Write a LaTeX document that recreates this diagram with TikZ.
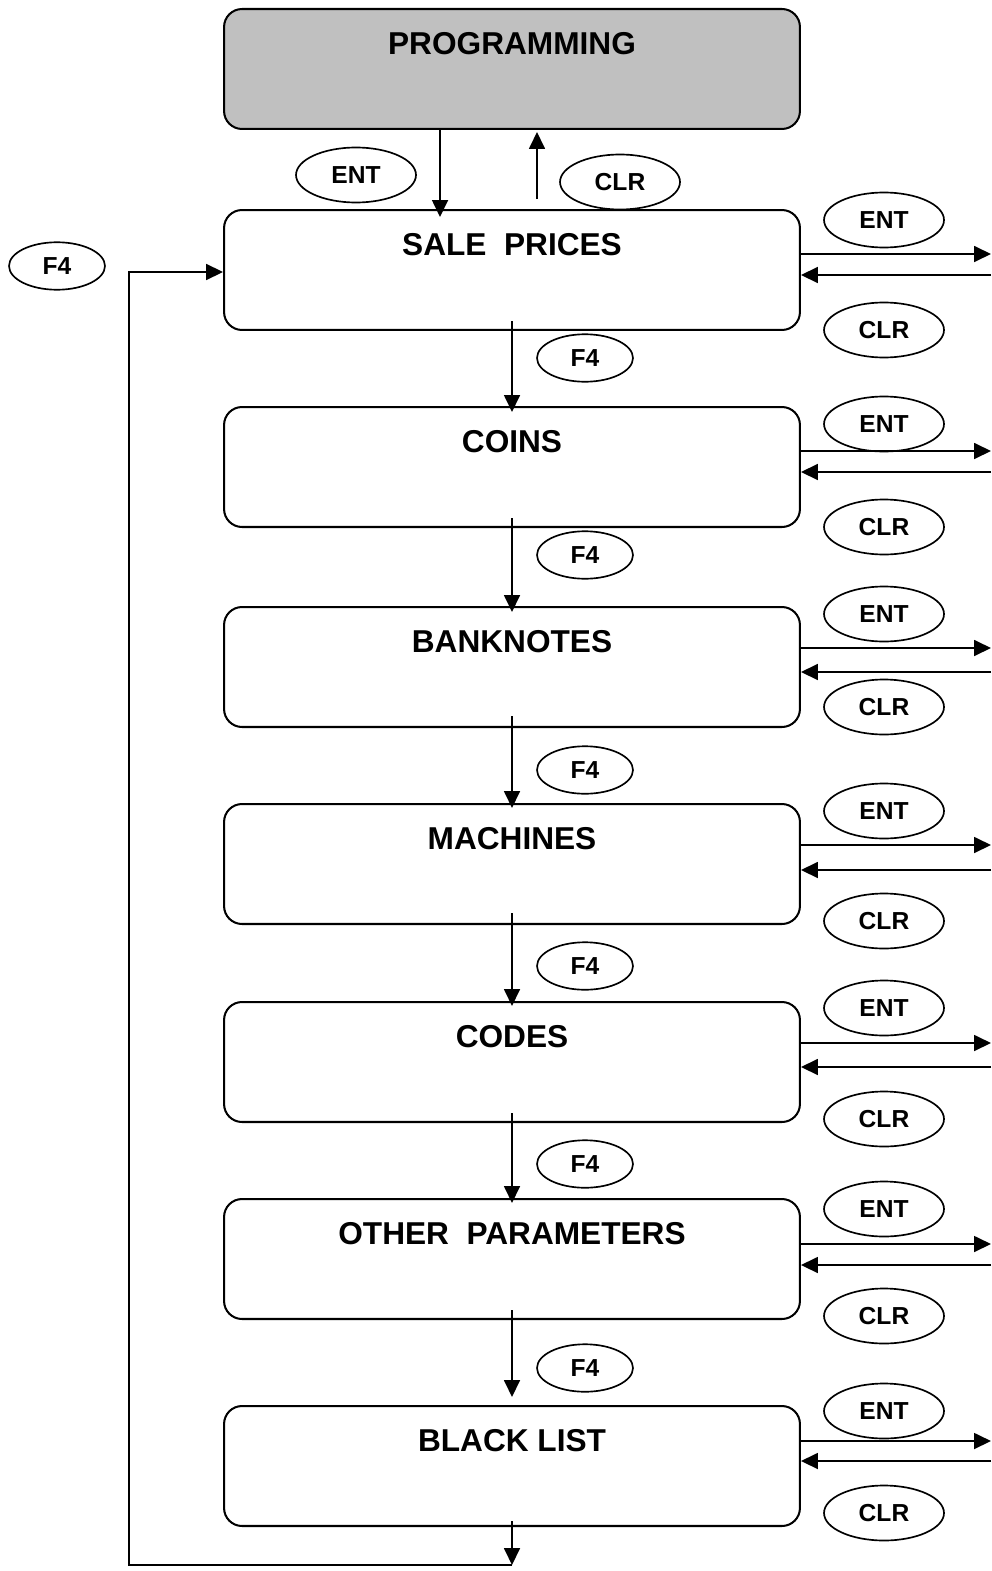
\documentclass[tikz,border=0pt]{standalone}
\usepackage{fontspec}
\setmainfont{Liberation Sans}
\usetikzlibrary{arrows.meta,shapes.geometric}
\definecolor{progfill}{HTML}{C0C0C0}
\tikzset{
  menubox/.style={draw, line width=1.15pt, rounded corners=0.36cm,
    minimum width=11.52cm, minimum height=2.4cm},
  title/.style={anchor=center, yshift=-0.71cm, font=\fontsize{18}{20}\selectfont\bfseries},
  key/.style={draw, ellipse, line width=0.95pt, inner sep=0pt,
    minimum width=2.4cm, minimum height=1.1cm, font=\fontsize{14}{16}\selectfont\bfseries},
  fkey/.style={key, minimum width=1.92cm, minimum height=0.95cm},
  arr/.style={line width=1pt, -{Triangle[length=0.34cm,width=0.32cm]}}
}
\begin{document}
\begin{tikzpicture}[x=0.02cm,y=-0.02cm]
  \useasboundingbox (0,0) rectangle (991,1571);
  % menu boxes
  \node[menubox, fill=progfill, label={[title]north:PROGRAMMING}] (prog) at (512,69) {};
  \node[menubox, label={[title]north:SALE\ \ PRICES}] (sp) at (512,270) {};
  \node[menubox, label={[title]north:COINS}] (coins) at (512,467) {};
  \node[menubox, label={[title]north:BANKNOTES}] (bank) at (512,667) {};
  \node[menubox, label={[title]north:MACHINES}] (mach) at (512,864) {};
  \node[menubox, label={[title]north:CODES}] (codes) at (512,1062) {};
  \node[menubox, label={[title]north:OTHER\ \ PARAMETERS}] (other) at (512,1259) {};
  \node[menubox, label={[title]north:BLACK LIST}] (black) at (512,1466) {};
  % keys
  \node[key] (entP) at (356,175) {ENT};
  \node[key] (clrP) at (620,182) {CLR};
  \node[fkey] (f4L) at (57,266) {F4};
  \node[key] (ent1) at (884,220) {ENT};
  \node[key] (clr1) at (884,330) {CLR};
  \node[key] (ent2) at (884,424) {ENT};
  \node[key] (clr2) at (884,527) {CLR};
  \node[key] (ent3) at (884,614) {ENT};
  \node[key] (clr3) at (884,707) {CLR};
  \node[key] (ent4) at (884,811) {ENT};
  \node[key] (clr4) at (884,921) {CLR};
  \node[key] (ent5) at (884,1008) {ENT};
  \node[key] (clr5) at (884,1119) {CLR};
  \node[key] (ent6) at (884,1209) {ENT};
  \node[key] (clr6) at (884,1316) {CLR};
  \node[key] (ent7) at (884,1411) {ENT};
  \node[key] (clr7) at (884,1513) {CLR};
  \node[fkey] (f41) at (585,358) {F4};
  \node[fkey] (f42) at (585,555) {F4};
  \node[fkey] (f43) at (585,770) {F4};
  \node[fkey] (f44) at (585,966) {F4};
  \node[fkey] (f45) at (585,1164) {F4};
  \node[fkey] (f46) at (585,1368) {F4};
  % enter / leave programming
  \draw[arr] ([xshift=-1.44cm]prog.south) -- ([xshift=-1.44cm,yshift=-0.16cm]sp.north);
  \draw[arr] ([xshift=0.5cm,yshift=0.2cm]sp.north) -- ([xshift=0.5cm,yshift=-0.04cm]prog.south);
  % F4 steps
  \draw[arr] ([yshift=0.2cm]sp.south) -- ([yshift=-0.12cm]coins.north);
  \draw[arr] ([yshift=0.2cm]coins.south) -- ([yshift=-0.12cm]bank.north);
  \draw[arr] ([yshift=0.24cm]bank.south) -- ([yshift=-0.1cm]mach.north);
  \draw[arr] ([yshift=0.24cm]mach.south) -- ([yshift=-0.1cm]codes.north);
  \draw[arr] ([yshift=0.2cm]codes.south) -- ([yshift=-0.1cm]other.north);
  \draw[arr] ([yshift=0.2cm]other.south) -- ([yshift=0.16cm]black.north);
  % back to the first menu
  \coordinate (loop) at (512,1565);
  \coordinate (corner) at (129,1565);
  \draw[arr] ([yshift=0.12cm]black.south) -- (loop);
  \draw[arr] (loop) -- (corner) |- ([yshift=-0.04cm]sp.west);
  % submenus on the right
  \coordinate (o1) at (991,254);  \coordinate (i1) at (991,275);
  \coordinate (o2) at (991,451);  \coordinate (i2) at (991,472);
  \coordinate (o3) at (991,648);  \coordinate (i3) at (991,672);
  \coordinate (o4) at (991,845);  \coordinate (i4) at (991,870);
  \coordinate (o5) at (991,1043); \coordinate (i5) at (991,1067);
  \coordinate (o6) at (991,1244); \coordinate (i6) at (991,1265);
  \coordinate (o7) at (991,1441); \coordinate (i7) at (991,1461);
  \draw[arr] (sp.east |- o1) -- (o1);
  \draw[arr] (i1) -- (sp.east |- i1);
  \draw[arr] (coins.east |- o2) -- (o2);
  \draw[arr] (i2) -- (coins.east |- i2);
  \draw[arr] (bank.east |- o3) -- (o3);
  \draw[arr] (i3) -- (bank.east |- i3);
  \draw[arr] (mach.east |- o4) -- (o4);
  \draw[arr] (i4) -- (mach.east |- i4);
  \draw[arr] (codes.east |- o5) -- (o5);
  \draw[arr] (i5) -- (codes.east |- i5);
  \draw[arr] (other.east |- o6) -- (o6);
  \draw[arr] (i6) -- (other.east |- i6);
  \draw[arr] (black.east |- o7) -- (o7);
  \draw[arr] (i7) -- (black.east |- i7);
\end{tikzpicture}
\end{document}
